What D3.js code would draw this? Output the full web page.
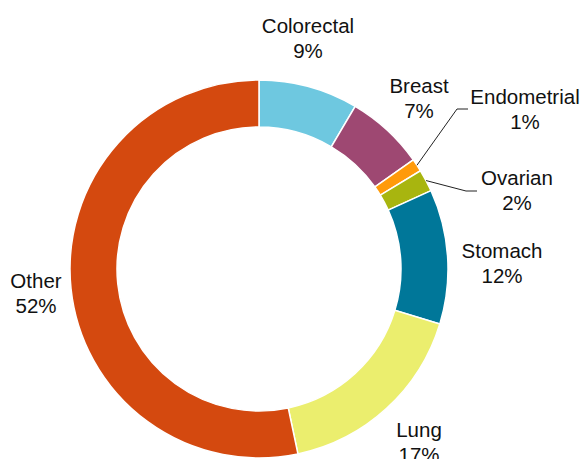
<!DOCTYPE html>
<html>
<head>
<meta charset="utf-8">
<script src="https://cdn.jsdelivr.net/npm/d3@7"></script>
<style>
  html, body { margin: 0; padding: 0; background: #fff; }
  svg { display: block; }
</style>
</head>
<body>
<script>
const categories = ["Colorectal", "Breast", "Endometrial", "Ovarian", "Stomach", "Lung", "Other"];
const shares = [8.5, 6.7, 1.1, 1.9, 11.5, 17.0, 53.3];
const shareLabels = ["9%", "7%", "1%", "2%", "12%", "17%", "52%"];
const colors = ["#6ec8e0", "#9e4872", "#ff9a0a", "#a8b50f", "#007799", "#ebee6e", "#d4490f"];

const width = 582;
const height = 459;
const center = { x: 259, y: 269 };
const outerRadius = 189;
const innerRadius = 142;

// label anchor (x of text centre, y of first baseline), relative to chart centre
const labelPos = {
  Colorectal: [49, -236],
  Breast: [160, -176],
  Endometrial: [266, -165],
  Ovarian: [258, -84],
  Stomach: [243, -11],
  Lung: [160, 168],
  Other: [-223, 19]
};
// elbow of leader lines for thin slices
const leaderElbow = {
  Endometrial: [[198, -160], [209, -160]],
  Ovarian: [[207, -78], [218, -78]]
};

const data = categories.map((name, i) => ({ name, value: shares[i], label: shareLabels[i], color: colors[i] }));

const svg = d3.select("body").append("svg")
  .attr("width", width)
  .attr("height", height);

const g = svg.append("g")
  .attr("transform", `translate(${center.x},${center.y})`);

const pie = d3.pie()
  .value((d) => d.value)
  .sort(null);

const arc = d3.arc()
  .innerRadius(innerRadius)
  .outerRadius(outerRadius);

const arcs = pie(data);

g.selectAll(".slice")
  .data(arcs)
  .enter()
  .append("path")
  .attr("class", "slice")
  .attr("d", arc)
  .attr("fill", (d) => d.data.color)
  .attr("stroke", "#fff")
  .attr("stroke-width", 1.5);

// leader lines
arcs.filter((d) => leaderElbow[d.data.name]).forEach((d) => {
  const mid = (d.startAngle + d.endAngle) / 2;
  const start = [Math.sin(mid) * outerRadius, -Math.cos(mid) * outerRadius];
  const pts = [start].concat(leaderElbow[d.data.name]);
  g.append("path")
    .attr("d", d3.line()(pts))
    .attr("fill", "none")
    .attr("stroke", "#222")
    .attr("stroke-width", 1);
});

const labels = g.selectAll(".label")
  .data(arcs)
  .enter()
  .append("text")
  .attr("class", "label")
  .attr("text-anchor", "middle")
  .attr("style", "font-family: 'Liberation Sans', Arial, sans-serif; font-size: 20.5px; fill: #111;")
  .attr("transform", (d) => `translate(${labelPos[d.data.name][0]},${labelPos[d.data.name][1]})`);

labels.append("tspan")
  .attr("x", 0)
  .attr("y", 0)
  .text((d) => d.data.name);

labels.append("tspan")
  .attr("x", 0)
  .attr("y", 25)
  .text((d) => d.data.label);
</script>
</body>
</html>
